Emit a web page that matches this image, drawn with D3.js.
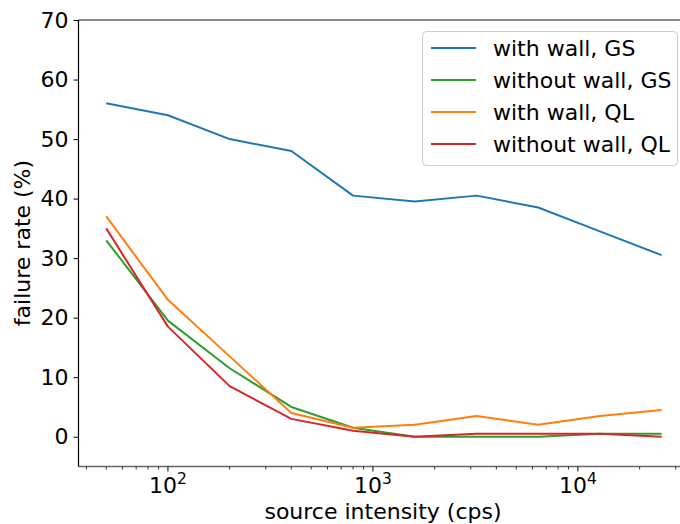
<!DOCTYPE html>
<html><head><meta charset="utf-8">
<script src="https://cdn.jsdelivr.net/npm/d3@7"></script>
<style>
body{margin:0;background:#fff;}
text{font-family:"DejaVu Sans",sans-serif;fill:#000;}
</style></head>
<body><svg id="c" width="680" height="524"></svg>
<script>
const intensity = [50, 100, 200, 400, 800, 1600, 3200, 6400, 12800, 25600];
const withWallGS = [56, 54, 50, 48, 40.5, 39.5, 40.5, 38.5, 34.5, 30.5];
const withoutWallGS = [33, 19.5, 11.5, 5, 1.5, 0, 0, 0, 0.5, 0.5];
const withWallQL = [37, 23, 13.5, 4, 1.5, 2, 3.5, 2, 3.5, 4.5];
const withoutWallQL = [35, 18.5, 8.5, 3, 1, 0, 0.5, 0.5, 0.5, 0];
const seriesNames = ["with wall, GS", "without wall, GS", "with wall, QL", "without wall, QL"];
const seriesColors = ["#1f77b4", "#2ca02c", "#ff7f0e", "#d62728"];
const yTicks = [0, 10, 20, 30, 40, 50, 60, 70];
const xMajor = [100, 1000, 10000];

const series = [withWallGS, withoutWallGS, withWallQL, withoutWallQL];
const svg = d3.select("#c");
const L = 78.5, T = 20, B = 466.5, R = 689.5;
const x = d3.scaleLog().domain([Math.pow(10,1.5637), Math.pow(10,4.5443)]).range([L, R]);
const y = d3.scaleLinear().domain([-5, 70]).range([B, T]);

const line = d3.line().x((d,i)=>x(intensity[i])).y(d=>y(d));
series.forEach((s,k)=>{
  svg.append("path").datum(s).attr("d", line).attr("fill","none")
    .attr("stroke", seriesColors[k]).attr("stroke-width", 2).attr("stroke-linejoin","round");
});

// spines
svg.append("line").attr("x1",L).attr("x2",R).attr("y1",T).attr("y2",T).attr("stroke","#666").attr("stroke-width",1.5);
svg.append("line").attr("x1",L).attr("x2",R).attr("y1",B).attr("y2",B).attr("stroke","#666").attr("stroke-width",1.5);
svg.append("line").attr("x1",L).attr("x2",L).attr("y1",T).attr("y2",B).attr("stroke","#000").attr("stroke-width",1.2);

// y axis
const yAxis = d3.axisLeft(y).tickValues(yTicks).tickSize(5).tickPadding(5).tickFormat(d3.format("d"));
const ga = svg.append("g").attr("transform",`translate(${L},0)`).call(yAxis);
ga.select(".domain").remove();
ga.selectAll("text").attr("font-size",22).attr("font-family","DejaVu Sans").attr("fill","#000");
ga.selectAll("line").attr("stroke","#000");

// x axis ticks
const minor = [];
for (let e=1;e<=4;e++) for (let m=2;m<=9;m++){ const v=m*Math.pow(10,e); if (x(v)>=L && x(v)<=680) minor.push(v);}
const gx = svg.append("g").attr("transform",`translate(0,${B})`);
gx.selectAll(".mn").data(minor).enter().append("line").attr("x1",d=>x(d)).attr("x2",d=>x(d)).attr("y1",0).attr("y2",3).attr("stroke","#333").attr("stroke-width",1);
gx.selectAll(".mj").data(xMajor).enter().append("line").attr("x1",d=>x(d)).attr("x2",d=>x(d)).attr("y1",0).attr("y2",5).attr("stroke","#000").attr("stroke-width",1);
const lab = gx.selectAll(".lb").data(xMajor).enter().append("text").attr("x",d=>x(d)).attr("y",26).attr("text-anchor","middle").attr("font-size",22);
lab.append("tspan").text("10");
lab.append("tspan").attr("dy",-9).attr("font-size",15.5).text(d=>Math.round(Math.log10(d)));

// axis labels
svg.append("text").attr("x",383).attr("y",519).attr("text-anchor","middle").attr("font-size",22).text("source intensity (cps)");
svg.append("text").attr("transform","translate(30,243) rotate(-90)").attr("text-anchor","middle").attr("font-size",22).text("failure rate (%)");

// legend
const lg = svg.append("g");
lg.append("rect").attr("x",422.5).attr("y",31.5).attr("width",255).attr("height",134).attr("rx",4)
  .attr("fill","#fff").attr("fill-opacity",0.8).attr("stroke","#ccc").attr("stroke-width",1);
seriesNames.forEach((n,k)=>{
  const yy = 48 + k*32;
  lg.append("line").attr("x1",431).attr("x2",476).attr("y1",yy).attr("y2",yy).attr("stroke",seriesColors[k]).attr("stroke-width",2);
  lg.append("text").attr("x",493).attr("y",yy+8).attr("font-size",22).text(n);
});
</script></body></html>
